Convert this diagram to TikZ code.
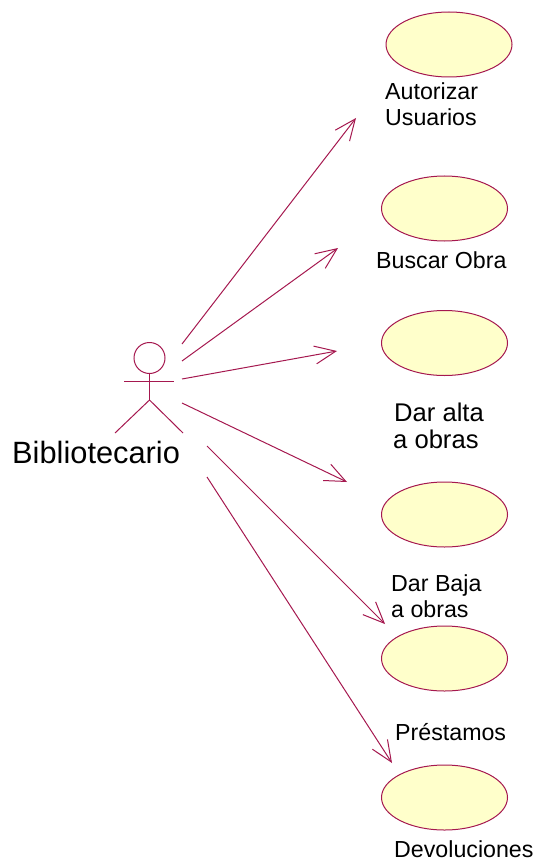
\documentclass[tikz,border=0pt]{standalone}
\usepackage{fontspec}
\setmainfont{Liberation Sans}
\usetikzlibrary{arrows.meta,shapes.geometric}
\definecolor{umlline}{HTML}{A5184F}
\definecolor{umlfill}{HTML}{FFFFCB}
\tikzset{
  usecase/.style={draw=umlline,fill=umlfill,line width=1pt,ellipse,minimum width=126pt,minimum height=65pt,inner sep=0pt},
  lbl/.style={font=\fontsize{23.2pt}{26.5pt}\selectfont,text=black,inner sep=0pt,align=left,anchor=west},
  lblbig/.style={font=\fontsize{25.6pt}{27pt}\selectfont,text=black,inner sep=0pt,align=left,anchor=west},
  bigl/.style={font=\fontsize{30.8pt}{34pt}\selectfont,text=black,inner sep=0pt,anchor=base west},
  assoc/.style={draw=umlline,line width=1pt,-{Straight Barb[length=21pt,width=18pt,line width=1pt]}},
  stick/.style={draw=umlline,line width=1pt}
}
\begin{document}
\begin{tikzpicture}[x=1pt,y=-1pt]
\useasboundingbox (0,0) rectangle (538,861);
% use cases
\node[usecase] (uc1) at (449,44.5) {};
\node[usecase] (uc2) at (444.5,208.5) {};
\node[usecase] (uc3) at (444.5,343) {};
\node[usecase] (uc4) at (444.5,514.5) {};
\node[usecase] (uc5) at (444.5,658.5) {};
\node[usecase] (uc6) at (444.5,797.5) {};
% labels
\node[lbl] (t1) at (385,104) {Autorizar\\Usuarios};
\node[lbl] (t2) at (376,260) {Buscar Obra};
\node[lblbig] (t3) at (393,425.5) {\hspace*{1pt}Dar alta\\a obras};
\node[lbl] (t4) at (391,596) {Dar Baja\\a obras};
\node[lbl] (t5) at (395,732) {Préstamos};
\node[lbl] (t6) at (394,849) {Devoluciones};
\node[bigl] (actorname) at (12,463) {Bibliotecario};
% actor
\node[stick,circle,minimum size=31pt,inner sep=0pt] (head) at (149.5,358) {};
\coordinate (hip) at (149.5,400);
\coordinate (armL) at (124,381);
\coordinate (armR) at (174,381);
\coordinate (legL) at (115,433);
\coordinate (legR) at (183,433);
\draw[stick] (head.south) -- (hip);
\draw[stick] (armL) -- (armR);
\draw[stick] (legL) -- (hip) -- (legR);
% association ends
\coordinate (s1) at (182,344);\coordinate (e1) at (356,118);
\coordinate (s2) at (182,361);\coordinate (e2) at (338,248);
\coordinate (s3) at (182,379);\coordinate (e3) at (337,351);
\coordinate (s4) at (182,403);\coordinate (e4) at (347,482);
\coordinate (s5) at (207,446);\coordinate (e5) at (385,624);
\coordinate (s6) at (207,477);\coordinate (e6) at (392,763);
\draw[assoc] (s1) -- (e1);
\draw[assoc] (s2) -- (e2);
\draw[assoc] (s3) -- (e3);
\draw[assoc] (s4) -- (e4);
\draw[assoc] (s5) -- (e5);
\draw[assoc] (s6) -- (e6);
\end{tikzpicture}
\end{document}
